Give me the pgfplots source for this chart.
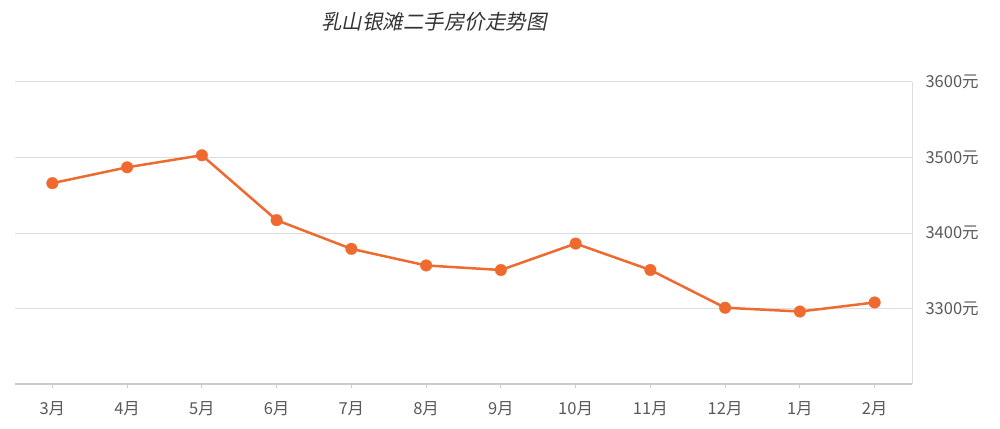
\documentclass[border=0pt]{standalone}
\usepackage{pgfplots}
\pgfplotsset{compat=1.18}
\usepackage{fontspec}
\setmainfont{Noto Sans CJK SC}
\newfontfamily\titlefont[FakeSlant=0.2]{Noto Sans CJK SC}
\definecolor{lineor}{HTML}{EE6A2E}
\definecolor{gridc}{HTML}{DDDDDD}
\definecolor{axc}{HTML}{CCCCCC}
\definecolor{labc}{HTML}{5A5A5A}
\begin{document}
\begin{tikzpicture}[x=1bp,y=1bp]
\useasboundingbox (0,0) rectangle (1000,428);
\node[text=black!80, font=\titlefont\fontsize{20.5bp}{24bp}\selectfont] at (434,406) {乳山银滩二手房价走势图};
\begin{axis}[
  at={(15bp,44bp)}, anchor=south west,
  scale only axis, width=897bp, height=302bp,
  xmin=-0.5, xmax=11.5, ymin=3200, ymax=3600,
  axis x line*=bottom, axis y line*=right,
  x axis line style={axc, line width=1.5bp},
  y axis line style={gridc, line width=1bp},
  xtick={0,...,11},
  xticklabels={3月,4月,5月,6月,7月,8月,9月,10月,11月,12月,1月,2月},
  ytick={3300,3400,3500,3600},
  yticklabels={3300元,3400元,3500元,3600元},
  yticklabel style={anchor=west, xshift=10bp},
  xticklabel style={yshift=-10bp},
  tick label style={text=labc, font=\fontsize{16.5bp}{19bp}\selectfont},
  ymajorgrids, grid style={gridc, line width=1bp},
  x tick style={axc, line width=1bp},
  y tick style={draw=none},
  xtick align=outside,
  major tick length=4bp,
  clip=false,
]
\addplot[color=lineor, line width=2.5bp, mark=*, mark size=5.8bp, mark options={fill=lineor, draw=lineor, line width=0.3bp}]
coordinates {
(0,3466) (1,3487) (2,3503) (3,3417) (4,3379) (5,3357) (6,3351) (7,3386) (8,3351) (9,3301) (10,3296) (11,3308)
};
\end{axis}
\end{tikzpicture}
\end{document}
